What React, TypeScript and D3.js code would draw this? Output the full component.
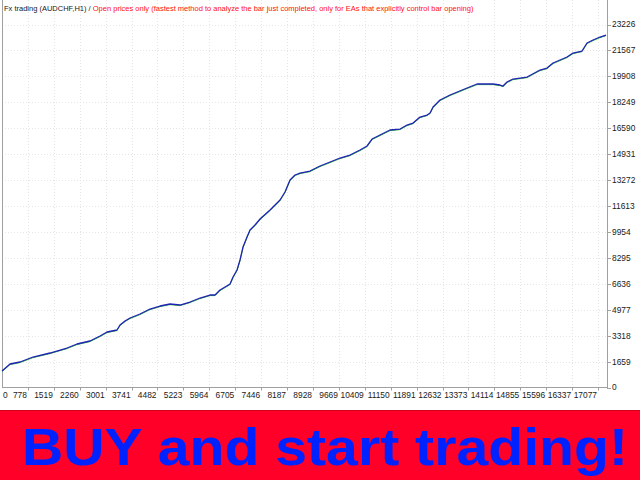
import React from "react";
import * as d3 from "d3";

const titleBlack = "Fx trading (AUDCHF,H1) / ";
const titleRed =
  "Open prices only (fastest method to analyze the bar just completed, only for EAs that explicitly control bar opening)";

const yTickLabels = [0, 1659, 3318, 4977, 6636, 8295, 9954, 11613, 13272, 14931, 16590, 18249, 19908, 21567, 23226];
const xTickLabels = [
  "0", "778", "1519", "2260", "3001", "3741", "4482", "5223", "5964", "6705", "7446", "8187",
  "8928", "9669", "10409", "11150", "11891", "12632", "13373", "14114", "14855", "15596", "16337", "17077",
];

const trades = [
  0, 229, 515, 888, 1374, 1861, 2147, 2519, 2806, 3006, 3292, 3378, 3521, 3665, 3951, 4237, 4524, 4810,
  5096, 5382, 5669, 5955, 6098, 6241, 6385, 6528, 6614, 6728, 6814, 6900, 7014, 7100, 7243, 7387, 7673,
  7959, 8102, 8245, 8389, 8532, 8818, 9104, 9391, 9677, 9963, 10250, 10450, 10593, 10822, 11108, 11395,
  11595, 11767, 11967, 12168, 12254, 12340, 12540, 12826, 13313, 13599, 14057, 14257, 14343, 14458, 14630,
  15031, 15403, 15603, 15775, 16176, 16347, 16605, 16748, 16920, 17120, 17292,
];
const balance = [
  1056, 1504, 1631, 1951, 2207, 2527, 2783, 2975, 3295, 3551, 3679, 3999, 4255, 4447, 4703, 5022, 5214, 5342,
  5278, 5470, 5726, 5918, 5918, 6238, 6430, 6622, 7070, 7518, 8157, 8989, 9629, 10077, 10397, 10780, 11356,
  11996, 12508, 13276, 13596, 13723, 13851, 14172, 14427, 14683, 14875, 15195, 15452, 15899, 16154, 16475, 16538,
  16795, 16922, 17306, 17434, 17562, 17946, 18394, 18714, 19162, 19418, 19418, 19354, 19290, 19546, 19737,
  19865, 20314, 20442, 20761, 21145, 21401, 21529, 22041, 22233, 22425, 22553,
];

const bannerText = "BUY and start trading!";

export default function App() {
  const W = 640;
  const H = 480;
  const left = 2;
  const right = 607;
  const bottom = 387.5;

  const x = d3.scaleLinear().domain([0, 17320]).range([left, right]);
  const gridX = d3.scaleLinear().domain([0, xTickLabels.length - 1]).range([left, 598]);
  const y = d3.scaleLinear().domain([0, 23226]).range([bottom, 24.5]);

  const pts: [number, number][] = trades.map((t, i) => [t, balance[i]]);
  const line = d3
    .line<[number, number]>()
    .x((d) => x(d[0]))
    .y((d) => y(d[1]));
  const path = line(pts) || "";

  const axisFont = "'Liberation Sans', Arial, sans-serif";

  return (
    <svg
      width={W}
      height={H}
      style={{ position: "fixed", left: 0, top: 0, background: "#ffffff" }}
      xmlns="http://www.w3.org/2000/svg"
    >
      <rect x={0} y={0} width={W} height={H} fill="#ffffff" />
      {/* grid */}
      {yTickLabels.map((v, i) =>
        i === 0 ? null : (
          <line
            key={"gy" + i}
            x1={left}
            x2={right}
            y1={Math.round(y(v)) + 0.5}
            y2={Math.round(y(v)) + 0.5}
            stroke="#e6e6e6"
            strokeDasharray="1,2"
          />
        )
      )}
      {xTickLabels.map((_, i) =>
        i === 0 ? null : (
          <line
            key={"gx" + i}
            x1={Math.round(gridX(i)) + 0.5}
            x2={Math.round(gridX(i)) + 0.5}
            y1={0}
            y2={bottom}
            stroke="#e6e6e6"
            strokeDasharray="1,2"
          />
        )
      )}
      {/* axes frame */}
      <line x1={left + 0.5} x2={left + 0.5} y1={0} y2={bottom} stroke="#a0a0a0" />
      <line x1={left} x2={right + 1} y1={bottom} y2={bottom} stroke="#a0a0a0" />
      <line x1={right + 0.5} x2={right + 0.5} y1={0} y2={bottom} stroke="#a0a0a0" />
      {/* y ticks and labels */}
      {yTickLabels.map((v, i) => (
        <g key={"yt" + i}>
          <line
            x1={right}
            x2={right + 4}
            y1={Math.round(y(v)) + 0.5}
            y2={Math.round(y(v)) + 0.5}
            stroke="#a0a0a0"
          />
          <text
            x={612}
            y={y(v)}
            dy="0.35em"
            fontFamily={axisFont}
            fontSize={8.4}
            fill="#1a1a1a"
          >
            {v}
          </text>
        </g>
      ))}
      {/* x ticks and labels */}
      {xTickLabels.map((lab, i) => (
        <g key={"xt" + i}>
          {i > 0 && (
            <line
              x1={Math.round(gridX(i)) + 0.5}
              x2={Math.round(gridX(i)) + 0.5}
              y1={bottom}
              y2={bottom + 3}
              stroke="#a0a0a0"
            />
          )}
          <text
            x={i === 0 ? 3 : gridX(i) - 1}
            y={bottom + 10.5}
            textAnchor={i === 0 ? "start" : "end"}
            fontFamily={axisFont}
            fontSize={8.4}
            fill="#1a1a1a"
          >
            {lab}
          </text>
        </g>
      ))}
      {/* balance line */}
      <path d={path} fill="none" stroke="#30c030" strokeWidth={1} transform="translate(0,0.6)" />
      <path d={path} fill="none" stroke="#1f24b4" strokeWidth={1.3} strokeLinejoin="round" />
      {/* title */}
      <text x={4} y={11} fontFamily={axisFont} fontSize={7.5}>
        <tspan fill="#202020">{titleBlack}</tspan>
        <tspan fill="#ff1010">{titleRed}</tspan>
      </text>
      {/* banner */}
      <rect x={0} y={410} width={W} height={70} fill="#ff0028" />
      <line x1={0} x2={W} y1={410.5} y2={410.5} stroke="#d0001e" />
      <text
        x={22}
        y={465}
        fontFamily="'Liberation Sans', Arial, sans-serif"
        fontWeight="bold"
        fontSize={52}
        fill="#0022ff"
        textLength={606}
        lengthAdjust="spacingAndGlyphs"
      >
        {bannerText}
      </text>
    </svg>
  );
}
